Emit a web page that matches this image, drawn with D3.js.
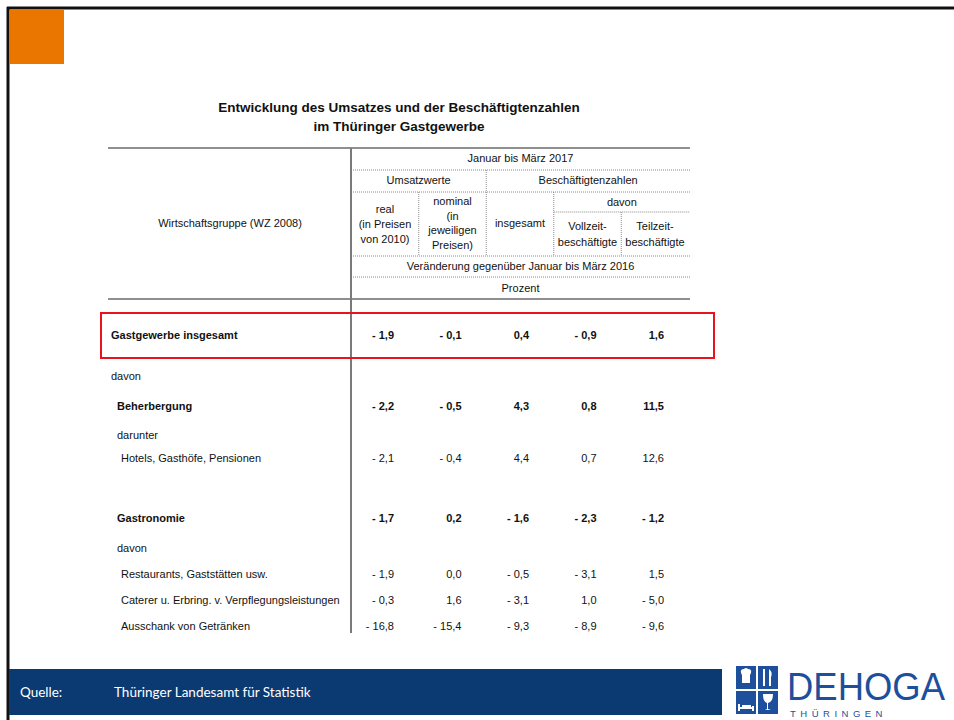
<!DOCTYPE html>
<html>
<head>
<meta charset="utf-8">
<script src="https://cdn.jsdelivr.net/npm/d3@7"></script>
<style>
  body { margin: 0; background: #fff; }
  svg { display: block; }
  .tbl { font-family: "Liberation Sans", Arial, sans-serif; font-size: 11px; fill: #111; }
</style>
</head>
<body>
<div id="chart"></div>
<script>
var w = 954;
var h = 720;

// data
var rowLabels = [
  "Gastgewerbe insgesamt", "davon", "Beherbergung", "darunter",
  "Hotels, Gasthöfe, Pensionen", "Gastronomie", "davon",
  "Restaurants, Gaststätten usw.", "Caterer u. Erbring. v. Verpflegungsleistungen",
  "Ausschank von Getränken"
];
// 0 = total, 1 = label only, 2 = group, 3 = sublabel, 4 = detail
var rowKind = [0, 1, 2, 3, 4, 2, 3, 4, 4, 4];
var columns = ["real", "nominal", "insgesamt", "vollzeit", "teilzeit"];
var realValues      = [-1.9, null, -2.2, null, -2.1, -1.7, null, -1.9, -0.3, -16.8];
var nominalValues   = [-0.1, null, -0.5, null, -0.4,  0.2, null,  0.0,  1.6, -15.4];
var insgesamtValues = [ 0.4, null,  4.3, null,  4.4, -1.6, null, -0.5, -3.1,  -9.3];
var vollzeitValues  = [-0.9, null,  0.8, null,  0.7, -2.3, null, -3.1,  1.0,  -8.9];
var teilzeitValues  = [ 1.6, null, 11.5, null, 12.6, -1.2, null,  1.5, -5.0,  -9.6];
var seriesByColumn = [realValues, nominalValues, insgesamtValues, vollzeitValues, teilzeitValues];

var titleLines = ["Entwicklung des Umsatzes und der Beschäftigtenzahlen", "im Thüringer Gastgewerbe"];
var sourceLabel = "Quelle:";
var sourceText = "Thüringer Landesamt für Statistik";

var svg = d3.select("#chart").append("svg")
  .attr("width", w)
  .attr("height", h);

// slide frame
svg.append("line").attr("x1", 7).attr("x2", w).attr("y1", 8).attr("y2", 8)
  .attr("stroke", "#111").attr("stroke-width", 3);
svg.append("line").attr("x1", 8).attr("x2", 8).attr("y1", 7).attr("y2", h)
  .attr("stroke", "#111").attr("stroke-width", 3);
svg.append("rect").attr("x", 10).attr("y", 10).attr("width", 54).attr("height", 54).attr("fill", "#EA7600");

// title
svg.selectAll(".title").data(titleLines).enter().append("text")
  .attr("class", "title")
  .attr("x", 399)
  .attr("y", function(d, i) { return 112 + i * 19; })
  .attr("text-anchor", "middle")
  .attr("font-family", "Liberation Sans, Arial, sans-serif")
  .attr("font-weight", "bold")
  .attr("font-size", "13.5px")
  .attr("fill", "#111")
  .text(function(d) { return d; });

// table geometry
var left = 108, divX = 351, right = 690;
var xCol = d3.scalePoint().domain(columns).range([385, 655]);
var colStep = xCol.step();
var g = svg.append("g").attr("class", "tbl");

function hline(y, x1, x2, dotted) {
  g.append("line").attr("x1", x1).attr("x2", x2).attr("y1", y).attr("y2", y)
    .attr("stroke", dotted ? "#8a8a8a" : "#6a6a6a")
    .attr("stroke-width", dotted ? 1 : 1.3)
    .attr("stroke-dasharray", dotted ? "1,1" : null);
}
function vline(x, y1, y2, dotted) {
  g.append("line").attr("x1", x).attr("x2", x).attr("y1", y1).attr("y2", y2)
    .attr("stroke", dotted ? "#8a8a8a" : "#7a7a7a")
    .attr("stroke-width", dotted ? 1 : 2)
    .attr("stroke-dasharray", dotted ? "1,1" : null);
}
function txt(x, y, s, anchor) {
  g.append("text").attr("x", x).attr("y", y)
    .attr("text-anchor", anchor || "middle")
    .text(s);
}

var colLeft = function(c) { return xCol(c) - colStep / 2; };

hline(148, left, right, false);
hline(170, divX, right, true);
hline(192, divX, right, true);
hline(212, colLeft("vollzeit"), right, true);
hline(256, divX, right, true);
hline(277, divX, right, true);
hline(299, left, right, false);

vline(divX, 148, 633, false);
vline(colLeft("nominal"), 192, 256, true);
vline(colLeft("insgesamt"), 170, 256, true);
vline(colLeft("vollzeit"), 192, 256, true);
vline(colLeft("teilzeit"), 212, 256, true);

var mid = (divX + right) / 2;
txt(mid, 162, "Januar bis März 2017");
txt((divX + colLeft("insgesamt")) / 2, 184, "Umsatzwerte");
txt((colLeft("insgesamt") + right) / 2, 184, "Beschäftigtenzahlen");
txt(230, 227, "Wirtschaftsgruppe (WZ 2008)");
["real", "(in Preisen", "von 2010)"].forEach(function(s, i) { txt(xCol("real"), 213 + i * 15, s); });
["nominal", "(in", "jeweiligen", "Preisen)"].forEach(function(s, i) { txt(xCol("nominal"), 205 + i * 14.5, s); });
txt(xCol("insgesamt"), 227, "insgesamt");
txt((colLeft("vollzeit") + right) / 2, 206, "davon");
["Vollzeit-", "beschäftigte"].forEach(function(s, i) { txt(xCol("vollzeit"), 230 + i * 16, s); });
["Teilzeit-", "beschäftigte"].forEach(function(s, i) { txt(xCol("teilzeit"), 230 + i * 16, s); });
txt(mid, 270, "Veränderung gegenüber Januar bis März 2016");
txt(mid, 292, "Prozent");

// body rows
var rowGap = [0, 41, 30, 29, 23, 60, 30, 26, 26, 26];
var rowY = d3.cumsum(rowGap).map(function(v) { return 339 + v; });
var indent = [111, 111, 117, 117, 121];

function fmt(v) {
  var s = d3.format(".1f")(Math.abs(v)).replace(".", ",");
  return v < 0 ? "- " + s : s;
}

var rows = g.selectAll(".row").data(rowLabels).enter().append("g")
  .attr("class", "row")
  .attr("font-weight", function(d, i) { return (rowKind[i] === 0 || rowKind[i] === 2) ? "bold" : "normal"; });

rows.append("text")
  .attr("x", function(d, i) { return indent[rowKind[i]]; })
  .attr("y", function(d, i) { return rowY[i]; })
  .text(function(d) { return d; });

columns.forEach(function(c, ci) {
  rows.filter(function(d, i) { return seriesByColumn[ci][i] !== null; })
    .append("text")
    .attr("x", xCol(c) + 9)
    .attr("y", function(d) { return rowY[rowLabels.indexOf(d)]; })
    .attr("text-anchor", "end")
    .text(function(d) { return fmt(seriesByColumn[ci][rowLabels.indexOf(d)]); });
});

// highlight box
svg.append("rect").attr("x", 101).attr("y", 313).attr("width", 613).attr("height", 45)
  .attr("fill", "none").attr("stroke", "#E8141B").attr("stroke-width", 2);

// footer bar
svg.append("rect").attr("x", 9).attr("y", 669).attr("width", 713).attr("height", 46).attr("fill", "#0B3A73");
svg.append("text").attr("x", 20).attr("y", 697).attr("fill", "#fff")
  .attr("font-family", "Lato, Open Sans, sans-serif").attr("font-size", "13.5px").text(sourceLabel);
svg.append("text").attr("x", 114).attr("y", 697).attr("fill", "#fff")
  .attr("font-family", "Lato, Open Sans, sans-serif").attr("font-size", "13.5px").text(sourceText);

// logo
var logo = svg.append("g").attr("transform", "translate(736,666)");
var blue = "#1D4F9C";
[[0, 0], [22, 0], [0, 25], [22, 25]].forEach(function(p) {
  logo.append("rect").attr("x", p[0]).attr("y", p[1]).attr("width", 20).attr("height", 23).attr("fill", blue);
});
// chef hat
logo.append("path").attr("d", "M5,7 Q4,3 8,3 Q10,1 12,3 Q16,3 15,7 L14,9 L14,17 L6,17 L6,9 Z").attr("fill", "#fff");
// fork and knife
logo.append("rect").attr("x", 27).attr("y", 3).attr("width", 2).attr("height", 17).attr("fill", "#fff");
logo.append("path").attr("d", "M33,3 Q37,6 35,11 L35,20 L33,20 Z").attr("fill", "#fff");
// bed
logo.append("path").attr("d", "M3,38 L3,45 M3,42 L17,42 M17,40 L17,45 M6,40 L15,40").attr("stroke", "#fff").attr("stroke-width", 2).attr("fill", "none");
// glass
logo.append("path").attr("d", "M27,28 L37,28 Q37,36 32,37 L32,43 L35,44 L29,44 L31,43 L31,37 Q27,36 27,28 Z").attr("fill", "#fff");
svg.append("text").attr("x", 787).attr("y", 700).attr("fill", blue)
  .attr("font-family", "Liberation Sans, Arial, sans-serif").attr("font-size", "38px")
  .attr("textLength", 158).attr("lengthAdjust", "spacingAndGlyphs").text("DEHOGA");
svg.append("text").attr("x", 790).attr("y", 717).attr("fill", blue)
  .attr("font-family", "Liberation Sans, Arial, sans-serif").attr("font-size", "9.5px")
  .attr("letter-spacing", "4.5px").text("THÜRINGEN");
</script>
</body>
</html>
